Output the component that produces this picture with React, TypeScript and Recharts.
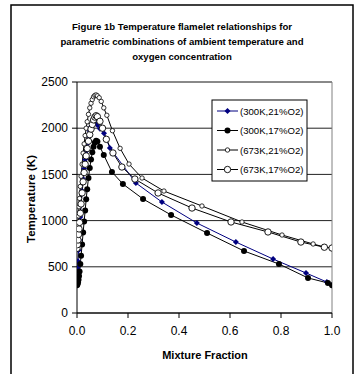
import React from "react";
import { LineChart, Line, XAxis, YAxis, CartesianGrid, ReferenceLine } from "recharts";

const FONT = "Arial, 'Liberation Sans', sans-serif";

// (300K,21%O2)
const f300k21 = [0, 0.001, 0.002, 0.003, 0.004, 0.006, 0.008, 0.01, 0.013, 0.016, 0.02, 0.024, 0.028, 0.032, 0.036, 0.04, 0.045, 0.05, 0.055, 0.06, 0.065, 0.07, 0.075, 0.08, 0.09, 0.106, 0.129, 0.231, 0.333, 0.47, 0.623, 0.769, 0.898, 0.98, 1.0];
const t300k21 = [300, 360, 420, 490, 560, 680, 790, 900, 1040, 1170, 1320, 1450, 1560, 1660, 1750, 1830, 1910, 1970, 2015, 2045, 2060, 2065, 2055, 2035, 1995, 1945, 1786, 1407, 1201, 974, 768, 584, 433, 335, 300];

// (300K,17%O2)
const f300k17 = [0, 0.002, 0.004, 0.006, 0.008, 0.01, 0.013, 0.016, 0.02, 0.024, 0.028, 0.032, 0.036, 0.04, 0.045, 0.05, 0.055, 0.06, 0.065, 0.07, 0.075, 0.08, 0.09, 0.105, 0.137, 0.18, 0.259, 0.369, 0.51, 0.655, 0.792, 0.906, 0.984, 1.0];
const t300k17 = [300, 310, 330, 360, 400, 450, 530, 620, 740, 870, 990, 1110, 1230, 1340, 1460, 1570, 1660, 1740, 1800, 1845, 1865, 1855, 1800, 1710, 1526, 1396, 1234, 1061, 866, 671, 530, 379, 325, 300];

// (673K,21%O2)
const f673k21 = [0, 0.001, 0.002, 0.003, 0.004, 0.006, 0.008, 0.01, 0.013, 0.016, 0.02, 0.024, 0.028, 0.032, 0.036, 0.04, 0.045, 0.05, 0.055, 0.06, 0.065, 0.07, 0.075, 0.08, 0.087, 0.095, 0.105, 0.117, 0.139, 0.169, 0.204, 0.255, 0.341, 0.49, 0.647, 0.804, 0.926, 0.97, 1.0];
const t673k21 = [700, 760, 820, 880, 940, 1050, 1150, 1240, 1370, 1480, 1610, 1730, 1830, 1920, 2000, 2070, 2150, 2220, 2270, 2310, 2340, 2355, 2360, 2350, 2330, 2290, 2220, 2140, 1973, 1782, 1612, 1461, 1320, 1158, 985, 844, 747, 714, 703];

// (673K,17%O2)
const f673k17 = [0, 0.002, 0.004, 0.006, 0.008, 0.01, 0.013, 0.016, 0.02, 0.024, 0.028, 0.032, 0.036, 0.04, 0.045, 0.05, 0.055, 0.06, 0.065, 0.07, 0.075, 0.08, 0.09, 0.1, 0.115, 0.141, 0.176, 0.227, 0.318, 0.451, 0.604, 0.749, 0.878, 0.97, 1.0];
const t673k17 = [700, 740, 790, 850, 910, 980, 1080, 1180, 1300, 1420, 1520, 1610, 1700, 1780, 1860, 1930, 1990, 2040, 2090, 2120, 2135, 2125, 2075, 2000, 1880, 1732, 1580, 1450, 1299, 1136, 985, 877, 768, 712, 703];

const xTicks = [0, 0.2, 0.4, 0.6, 0.8, 1];
const yTicks = [0, 500, 1000, 1500, 2000, 2500];
const titleLines = [
  "Figure 1b Temperature flamelet relationships for",
  "parametric combinations of ambient temperature and",
  "oxygen concentration",
];

type Kind = "diamond" | "dot" | "ring" | "bigRing";

const series: { name: string; kind: Kind; color: string; f: number[]; t: number[] }[] = [
  { name: "(300K,21%O2)", kind: "diamond", color: "#000080", f: f300k21, t: t300k21 },
  { name: "(300K,17%O2)", kind: "dot", color: "#000000", f: f300k17, t: t300k17 },
  { name: "(673K,21%O2)", kind: "ring", color: "#000000", f: f673k21, t: t673k21 },
  { name: "(673K,17%O2)", kind: "bigRing", color: "#000000", f: f673k17, t: t673k17 },
];

function Marker({ kind, cx, cy }: { kind: Kind; cx: number; cy: number }) {
  if (cx == null || cy == null) return null;
  if (kind === "diamond")
    return <polygon points={`${cx},${cy - 3} ${cx + 3},${cy} ${cx},${cy + 3} ${cx - 3},${cy}`} fill="#000080" />;
  if (kind === "dot") return <circle cx={cx} cy={cy} r={3} fill="#000" />;
  if (kind === "ring") return <circle cx={cx} cy={cy} r={2.2} fill="#fff" stroke="#000" strokeWidth={0.8} />;
  return <circle cx={cx} cy={cy} r={3.2} fill="#fff" stroke="#000" strokeWidth={0.9} />;
}

export default function App() {
  return (
    <div style={{ position: "fixed", left: 0, top: 0, width: 362, height: 374, background: "#fff" }}>
      <LineChart width={362} height={374} margin={{ top: 82, right: 30, bottom: 31, left: 37 }}>
        <CartesianGrid vertical={false} stroke="#222" />
        <XAxis
          dataKey="f"
          type="number"
          domain={[0, 1]}
          ticks={xTicks}
          tickFormatter={(v: number) => v.toFixed(1)}
          height={30}
          stroke="#000"
          tickSize={5}
          tickMargin={8}
          tick={{ fill: "#000", fontSize: 12, fontFamily: FONT }}
          allowDataOverflow
        />
        <YAxis
          type="number"
          domain={[0, 2500]}
          ticks={yTicks}
          width={40}
          stroke="#000"
          tickSize={5}
          tickMargin={4}
          tick={{ fill: "#000", fontSize: 12, fontFamily: FONT }}
        />
        <ReferenceLine y={2500} stroke="#808080" />
        <ReferenceLine x={1} stroke="#808080" />
        {series.map((s) => (
          <Line
            key={s.name}
            name={s.name}
            data={s.f.map((v, i) => ({ f: v, t: s.t[i] }))}
            dataKey="t"
            type="linear"
            stroke={s.color}
            strokeWidth={1}
            isAnimationActive={false}
            dot={(p: any) => <Marker key={`${s.name}-${p.index}`} kind={s.kind} cx={p.cx} cy={p.cy} />}
            activeDot={false}
          />
        ))}
      </LineChart>
      <svg width={362} height={374} style={{ position: "absolute", left: 0, top: 0, pointerEvents: "none" }}>
        <rect x={11} y={5} width={342} height={380} fill="none" stroke="#000" strokeWidth={1.5} />
        {titleLines.map((line, i) => (
          <text key={i} x={182} y={30 + i * 15} textAnchor="middle" fontFamily={FONT} fontWeight="bold" fontSize={9.6}>
            {line}
          </text>
        ))}
        <text x={205} y={359} textAnchor="middle" fontFamily={FONT} fontWeight="bold" fontSize={11}>
          Mixture Fraction
        </text>
        <text x={35} y={199} textAnchor="middle" fontFamily={FONT} fontWeight="bold" fontSize={11.5} transform="rotate(-90 35 199)">
          Temperature (K)
        </text>
        <rect x={212} y={100} width={95} height={81} fill="#fff" stroke="#000" strokeWidth={1} />
        {series.map((s, i) => {
          const y = 111 + i * 19.5;
          return (
            <g key={s.name}>
              <line x1={217} x2={238} y1={y} y2={y} stroke={s.color} strokeWidth={1} />
              <Marker kind={s.kind} cx={227.5} cy={y} />
              <text x={240} y={y + 3.5} fontFamily={FONT} fontSize={9.6} fill="#000">
                {s.name}
              </text>
            </g>
          );
        })}
      </svg>
    </div>
  );
}
